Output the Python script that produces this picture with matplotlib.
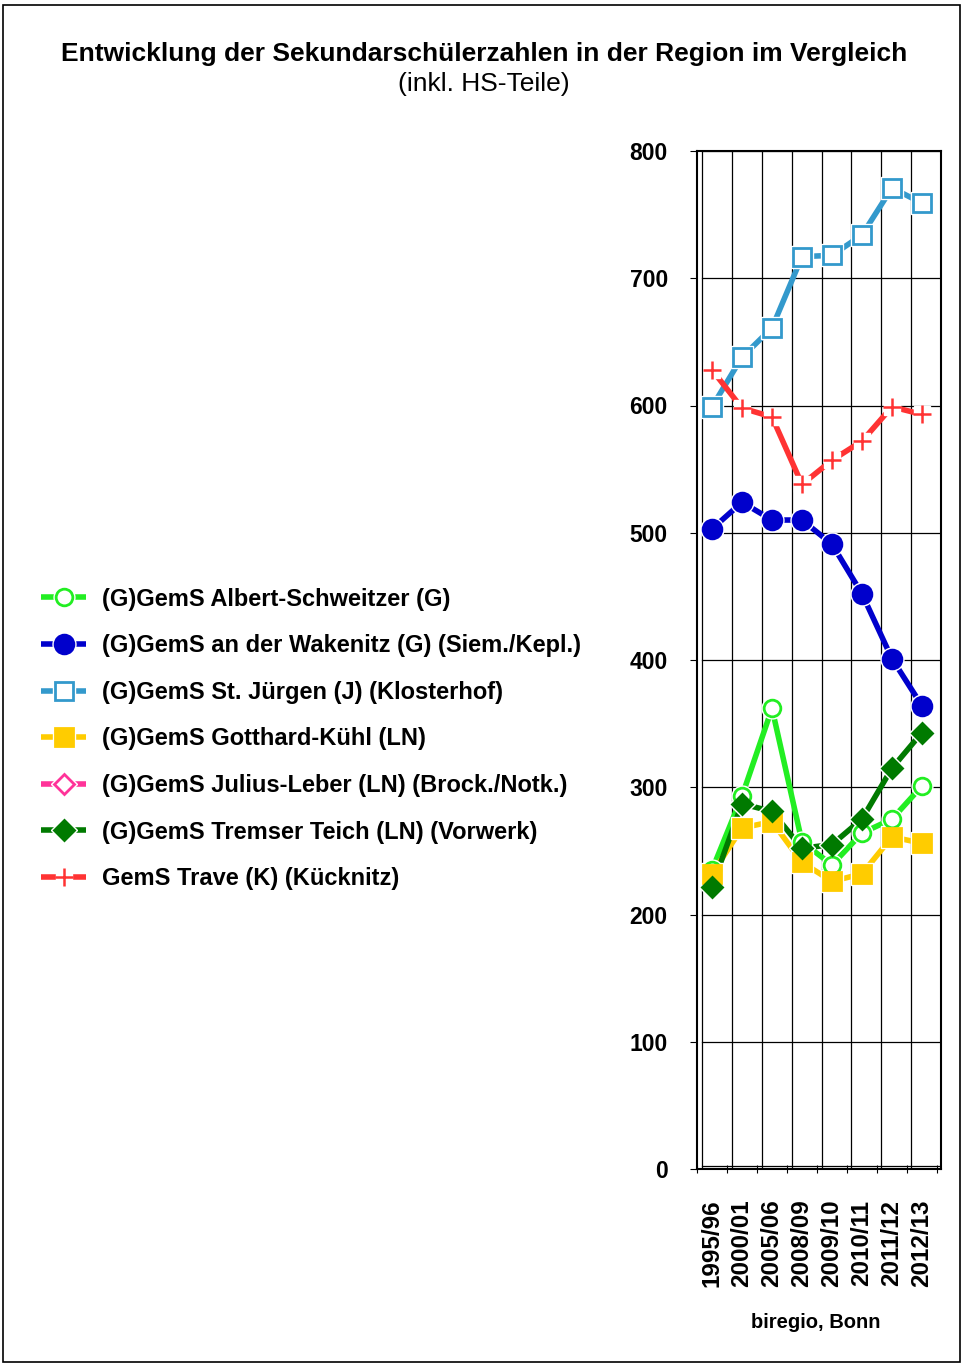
import numpy as np
import matplotlib.pyplot as plt
from matplotlib.lines import Line2D
from matplotlib.patches import Rectangle
from matplotlib.legend_handler import HandlerTuple

plt.rcParams['font.family'] = ['Liberation Sans', 'DejaVu Sans']

years = ['1995/96', '2000/01', '2005/06', '2008/09', '2009/10', '2010/11', '2011/12', '2012/13']

albert = [235, 293, 362, 257, 239, 264, 275, 301]
wakenitz = [503, 524, 510, 510, 491, 452, 401, 364]
juergen = [599, 638, 661, 717, 718, 734, 771, 759]
gotthard = [232, 268, 273, 241, 226, 232, 261, 256]
julius = [np.nan] * 8
tremser = [222, 287, 281, 252, 255, 275, 315, 343]
trave = [628, 598, 591, 538, 557, 572, 599, 593]

names = ['(G)GemS Albert-Schweitzer (G)',
         '(G)GemS an der Wakenitz (G) (Siem./Kepl.)',
         '(G)GemS St. Jürgen (J) (Klosterhof)',
         '(G)GemS Gotthard-Kühl (LN)',
         '(G)GemS Julius-Leber (LN) (Brock./Notk.)',
         '(G)GemS Tremser Teich (LN) (Vorwerk)',
         'GemS Trave (K) (Kücknitz)']
series = [albert, wakenitz, juergen, gotthard, julius, tremser, trave]
colors = ['#22ee22', '#0000cc', '#3399cc', '#ffcc00', '#ff3399', '#007a00', '#ff3333']
markers = ['o', 'o', 's', 's', 'D', 'D', '+']
filled = [False, True, False, True, False, True, False]
msizes = [12, 13.5, 12.5, 12.5, 10, 10.5, 13]

W, H = 963, 1365
fig = plt.figure(figsize=(W / 100, H / 100), dpi=100)
fig.patches.append(Rectangle((3 / W, 3 / H), 957 / W, 1357 / H, transform=fig.transFigure,
                             fill=False, ec='black', lw=1.2))

ax = fig.add_axes([697 / W, 1 - 1169 / H, 244 / W, (1169 - 151) / H])
x = np.arange(len(years))
ax.set_xlim(-0.5, -0.5 + 244 / 30)
ax.set_ylim(0, 800)

# back wall grid
for gx in np.linspace(-0.333, -0.5 + 244 / 30, 9):
    ax.axvline(gx, color='black', lw=0.9, zorder=1)
for gy in range(100, 801, 100):
    ax.axhline(gy, xmin=5 / 244, color='black', lw=0.9, zorder=1)
ax.axhline(2.5, xmin=5 / 244, color='black', lw=0.9, zorder=1)

handles = []
for s, c, m, f, ms, n in zip(series, colors, markers, filled, msizes, names):
    fc = c if f else 'white'
    ax.plot(x, s, color=c, lw=4, zorder=3, solid_capstyle='butt')
    if m == '+':
        ax.plot(x, s, ls='none', marker='s', ms=ms * 0.85, mfc='white', mec='white', zorder=4)
        ax.plot(x, s, ls='none', marker='+', ms=ms, mew=1.8, color=c, zorder=5)
        mk = Line2D([], [], ls='none', marker='+', ms=ms, mew=1.8, color=c)
        wk = Line2D([], [], ls='none', marker='s', ms=ms * 0.85, mfc='white', mec='white')
    else:
        ax.plot(x, s, ls='none', marker=m, ms=ms + 3, mfc='white', mec='white', zorder=4)
        ax.plot(x, s, ls='none', marker=m, ms=ms, mfc=fc, mec=c, mew=2, zorder=5)
        mk = Line2D([], [], ls='none', marker=m, ms=ms, mfc=fc, mec=c, mew=2)
        wk = Line2D([], [], ls='none', marker=m, ms=ms + 3, mfc='white', mec='white')
    ln = Line2D([], [], color=c, lw=4, solid_capstyle='butt')
    handles.append((ln, wk, mk))

ax.set_yticks(range(0, 801, 100))
ax.set_yticklabels([str(v) for v in range(0, 801, 100)], fontsize=16.5, fontweight='bold')
ax.set_xticks(np.arange(-0.5, 8, 1))
ax.set_xticklabels([])
ax.set_xticks(x, minor=True)
ax.set_xticklabels(years, minor=True, rotation=90, fontsize=17.5, fontweight='bold')
ax.tick_params(axis='x', which='minor', length=0, pad=22)
ax.tick_params(axis='x', which='major', length=6, direction='inout')
ax.tick_params(axis='y', length=5, direction='out', pad=16)
for sp in ['left', 'bottom', 'top', 'right']:
    ax.spines[sp].set_linewidth(1.5)

fig.legend(handles, names, handler_map={tuple: HandlerTuple(ndivide=1)},
           loc='center left', bbox_to_anchor=(20 / W, 1 - 739 / H), frameon=False,
           prop={'size': 17, 'weight': 'bold'}, handlelength=1.9, labelspacing=1.0,
           handletextpad=0.68)

fig.text(484 / W, 1 - 54 / H, 'Entwicklung der Sekundarschülerzahlen in der Region im Vergleich',
         ha='center', va='center', fontsize=19, fontweight='bold')
fig.text(484 / W, 1 - 84 / H, '(inkl. HS-Teile)', ha='center', va='center', fontsize=19)
fig.text(816 / W, 1 - 1322 / H, 'biregio, Bonn', ha='center', va='center', fontsize=14.5,
         fontweight='bold')

fig.savefig('out.png', dpi=100)
